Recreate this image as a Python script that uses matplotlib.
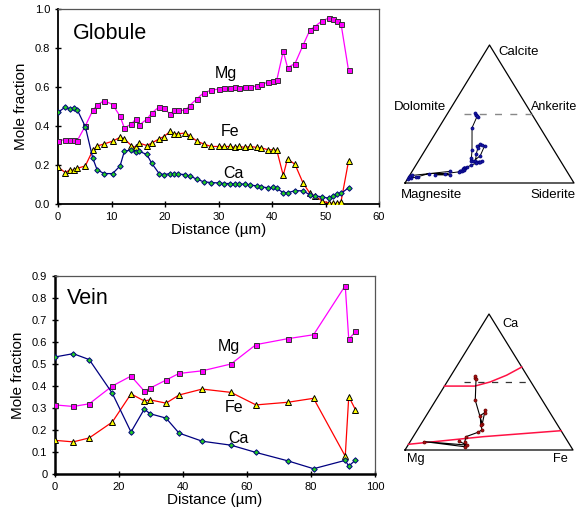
import numpy as np
import matplotlib
matplotlib.use("Agg")
import matplotlib.pyplot as plt

plt.rcParams['font.family'] = ['Liberation Sans', 'DejaVu Sans']

# ---------------- Globule data ----------------
glob_dist = [0, 1.4, 2.2, 2.9, 3.6, 5.1, 6.5, 7.3, 8.6, 10.2,
             11.6, 12.4, 13.7, 14.5, 15.2, 16.6, 17.5, 18.9, 19.8, 21.0,
             21.6, 22.5, 23.8, 24.6, 26.0, 27.2, 28.6, 30.1, 31.0, 32.2,
             33.1, 33.8, 35.0, 35.9, 37.2, 38.0, 39.3, 40.1, 40.9, 42.1,
             42.9, 44.3, 45.8, 47.1, 48.0, 49.4, 50.6, 51.4, 52.2, 52.9,
             54.3]
glob_mg = [0.325, 0.33, 0.33, 0.33, 0.325, 0.40, 0.48, 0.507, 0.53, 0.51,
           0.45, 0.39, 0.41, 0.435, 0.405, 0.435, 0.466, 0.498, 0.49, 0.46,
           0.48, 0.48, 0.48, 0.505, 0.54, 0.57, 0.583, 0.59, 0.593, 0.597,
           0.60, 0.597, 0.60, 0.60, 0.605, 0.614, 0.625, 0.63, 0.636, 0.783,
           0.70, 0.72, 0.814, 0.893, 0.91, 0.94, 0.953, 0.95, 0.936, 0.924,
           0.686]
glob_fe = [0.19, 0.16, 0.176, 0.173, 0.183, 0.195, 0.275, 0.297, 0.308, 0.322,
           0.342, 0.334, 0.30, 0.29, 0.312, 0.30, 0.312, 0.334, 0.346, 0.373,
           0.36, 0.36, 0.364, 0.35, 0.322, 0.308, 0.295, 0.295, 0.295, 0.295,
           0.29, 0.295, 0.29, 0.295, 0.29, 0.288, 0.278, 0.278, 0.275, 0.147,
           0.232, 0.203, 0.108, 0.054, 0.042, 0.015, 0.005, 0.003, 0.003, 0.012,
           0.219]
glob_ca = [0.47, 0.498, 0.486, 0.49, 0.483, 0.397, 0.235, 0.176, 0.156, 0.156,
           0.195, 0.27, 0.278, 0.266, 0.27, 0.254, 0.21, 0.156, 0.151, 0.156,
           0.153, 0.153, 0.151, 0.144, 0.127, 0.114, 0.11, 0.108, 0.105, 0.105,
           0.102, 0.102, 0.102, 0.097, 0.093, 0.088, 0.083, 0.085, 0.08, 0.058,
           0.058, 0.068, 0.068, 0.046, 0.041, 0.037, 0.029, 0.041, 0.049, 0.054,
           0.083]

# ---------------- Vein data ----------------
vein_dist = [0, 5.7, 10.7, 17.9, 23.75, 27.9, 29.7, 34.7, 38.75, 46,
             55, 62.8, 72.7, 80.8, 90.7, 91.8, 93.9]
vein_mg = [0.314, 0.307, 0.319, 0.40, 0.445, 0.377, 0.39, 0.427, 0.457, 0.469,
           0.50, 0.588, 0.615, 0.633, 0.856, 0.612, 0.648]
vein_fe = [0.153, 0.146, 0.164, 0.236, 0.364, 0.332, 0.337, 0.322, 0.359, 0.386,
           0.371, 0.314, 0.326, 0.344, 0.081, 0.352, 0.292]
vein_ca = [0.532, 0.547, 0.52, 0.367, 0.191, 0.295, 0.274, 0.254, 0.186, 0.149,
           0.131, 0.098, 0.06, 0.024, 0.062, 0.036, 0.063]

# ternary reference curves (Fe, Ca fractions)
upper_curve_fe = [0.0, 0.18, 0.256, 0.33, 0.39]
upper_curve_ca = [0.47, 0.47, 0.50, 0.55, 0.61]
lower_curve_fe = [0.0, 0.417, 0.858]
lower_curve_ca = [0.042, 0.098, 0.142]
dash_fe = [0.1, 0.5]
dash_ca = [0.5, 0.5]

glob_yticks = [0.0, 0.2, 0.4, 0.6, 0.8, 1.0]
glob_xticks = [0, 10, 20, 30, 40, 50, 60]
vein_yticks = [0, 0.1, 0.2, 0.3, 0.4, 0.5, 0.6, 0.7, 0.8, 0.9]
vein_xticks = [0, 20, 40, 60, 80, 100]

W, H = 577, 522
fig = plt.figure(figsize=(W / 100, H / 100), dpi=100)

def fig_rect(x0, y0, x1, y1):
    return [x0 / W, 1 - y1 / H, (x1 - x0) / W, (y1 - y0) / H]

MG_C = '#FF00FF'
FE_C = '#FF0000'
CA_C = '#000080'

def line_plot(ax, d, mg, fe, ca, ms):
    ax.plot(d, mg, color=MG_C, lw=0.9, marker='s', ms=ms, mfc=MG_C, mec='#333333', mew=0.7, zorder=3)
    ax.plot(d, fe, color=FE_C, lw=0.9, marker='^', ms=ms + 0.4, mfc='#FFFF00', mec='black', mew=0.7, zorder=3)
    ax.plot(d, ca, color=CA_C, lw=0.9, marker='D', ms=ms - 0.8, mfc='#22CC22', mec=CA_C, mew=0.7, zorder=3)

def style_axes(ax, lw_main):
    for s in ['top', 'right']:
        ax.spines[s].set_color('#555555')
        ax.spines[s].set_linewidth(0.9)
    for s in ['left', 'bottom']:
        ax.spines[s].set_color('black')
        ax.spines[s].set_linewidth(lw_main)
    ax.tick_params(direction='inout', length=5, width=1, labelsize=8, colors='black', pad=3)
    ax.tick_params(top=False, right=False)

LAB = 11
SER = 11.5
TITLE = 15.5

# ---------------- Globule axes ----------------
ax1 = fig.add_axes(fig_rect(58, 9, 379, 204))
line_plot(ax1, glob_dist, glob_mg, glob_fe, glob_ca, 3.6)
ax1.set_xlim(0, 60)
ax1.set_ylim(0, 1.0)
ax1.set_xticks(glob_xticks)
ax1.set_yticks(glob_yticks)
ax1.set_yticklabels([f'{v:.1f}' for v in glob_yticks])
style_axes(ax1, 1.3)
ax1.set_xlabel('Distance (\u00b5m)', fontsize=LAB, labelpad=1)
ax1.set_ylabel('Mole fraction', fontsize=LAB, labelpad=5)
ax1.text(2.8, 0.874, 'Globule', fontsize=TITLE, va='center', ha='left')
ax1.text(31.4, 0.667, 'Mg', fontsize=SER, ha='center', va='center')
ax1.text(32.1, 0.37, 'Fe', fontsize=SER, ha='center', va='center')
ax1.text(32.7, 0.154, 'Ca', fontsize=SER, ha='center', va='center')

# ---------------- Vein axes ----------------
ax2 = fig.add_axes(fig_rect(55, 276, 375, 474))
line_plot(ax2, vein_dist, vein_mg, vein_fe, vein_ca, 3.6)
ax2.set_xlim(0, 100)
ax2.set_ylim(0, 0.9)
ax2.set_xticks(vein_xticks)
ax2.set_yticks(vein_yticks)
ax2.set_yticklabels(['0' if v == 0 else f'{v:.1f}' for v in vein_yticks])
style_axes(ax2, 1.8)
ax2.set_xlabel('Distance (\u00b5m)', fontsize=LAB, labelpad=1)
ax2.set_ylabel('Mole fraction', fontsize=LAB, labelpad=5)
ax2.text(3.75, 0.80, 'Vein', fontsize=TITLE, va='center', ha='left')
ax2.text(54.4, 0.58, 'Mg', fontsize=SER, ha='center', va='center')
ax2.text(56.1, 0.30, 'Fe', fontsize=SER, ha='center', va='center')
ax2.text(57.3, 0.16, 'Ca', fontsize=SER, ha='center', va='center')

# ---------------- Ternary helpers ----------------
def tern_xy(fe, ca):
    fe = np.asarray(fe, float)
    ca = np.asarray(ca, float)
    return fe + ca / 2.0, ca

def tern_norm(mg, fe, ca):
    mg, fe, ca = (np.asarray(a, float) for a in (mg, fe, ca))
    s = mg + fe + ca
    return fe / s, ca / s

def tern_axes(rect):
    ax = fig.add_axes(rect)
    ax.set_xlim(0, 1)
    ax.set_ylim(0, 1)
    ax.axis('off')
    ax.plot([0, 1, 0.5, 0], [0, 0, 1, 0], color='black', lw=0.9, clip_on=False)
    return ax

TL = 9.5

# top ternary
t1 = tern_axes(fig_rect(405, 45, 574, 183))
x, y = tern_xy(dash_fe, dash_ca)
t1.plot(x, y, color='#888888', lw=1.0, ls=(0, (5, 6)))
fe_n, ca_n = tern_norm(glob_mg, glob_fe, glob_ca)
x, y = tern_xy(fe_n, ca_n)
t1.plot(x, y, color='black', lw=0.7, marker='o', ms=2.2, mfc='#1a1aa0', mec='#000080', mew=0.5, clip_on=False)
t1.text(0.55, 0.95, 'Calcite', fontsize=TL, ha='left', va='center')
t1.text(0.245, 0.55, 'Dolomite', fontsize=TL, ha='right', va='center')
t1.text(0.745, 0.55, 'Ankerite', fontsize=9.0, ha='left', va='center')
t1.text(-0.025, -0.09, 'Magnesite', fontsize=TL, ha='left', va='center')
t1.text(0.74, -0.09, 'Siderite', fontsize=TL, ha='left', va='center')

# bottom ternary
t2 = tern_axes(fig_rect(405, 314, 573, 450))
x, y = tern_xy(upper_curve_fe, upper_curve_ca)
t2.plot(x, y, color='#FF1144', lw=1.1)
x, y = tern_xy(lower_curve_fe, lower_curve_ca)
t2.plot(x, y, color='#FF1144', lw=1.1)
x, y = tern_xy(dash_fe, dash_ca)
t2.plot(x, y, color='#333333', lw=0.9, ls=(0, (5, 6)))
fe_n, ca_n = tern_norm(vein_mg, vein_fe, vein_ca)
x, y = tern_xy(fe_n, ca_n)
t2.plot(x, y, color='black', lw=0.8, marker='o', ms=2.2, mfc='#AA1111', mec='#660000', mew=0.5, clip_on=False)
t2.text(0.58, 0.93, 'Ca', fontsize=9.2, ha='left', va='center')
t2.text(0.01, -0.066, 'Mg', fontsize=9.2, ha='left', va='center')
t2.text(0.88, -0.066, 'Fe', fontsize=9.2, ha='left', va='center')

fig.savefig('out.png', dpi=100)
